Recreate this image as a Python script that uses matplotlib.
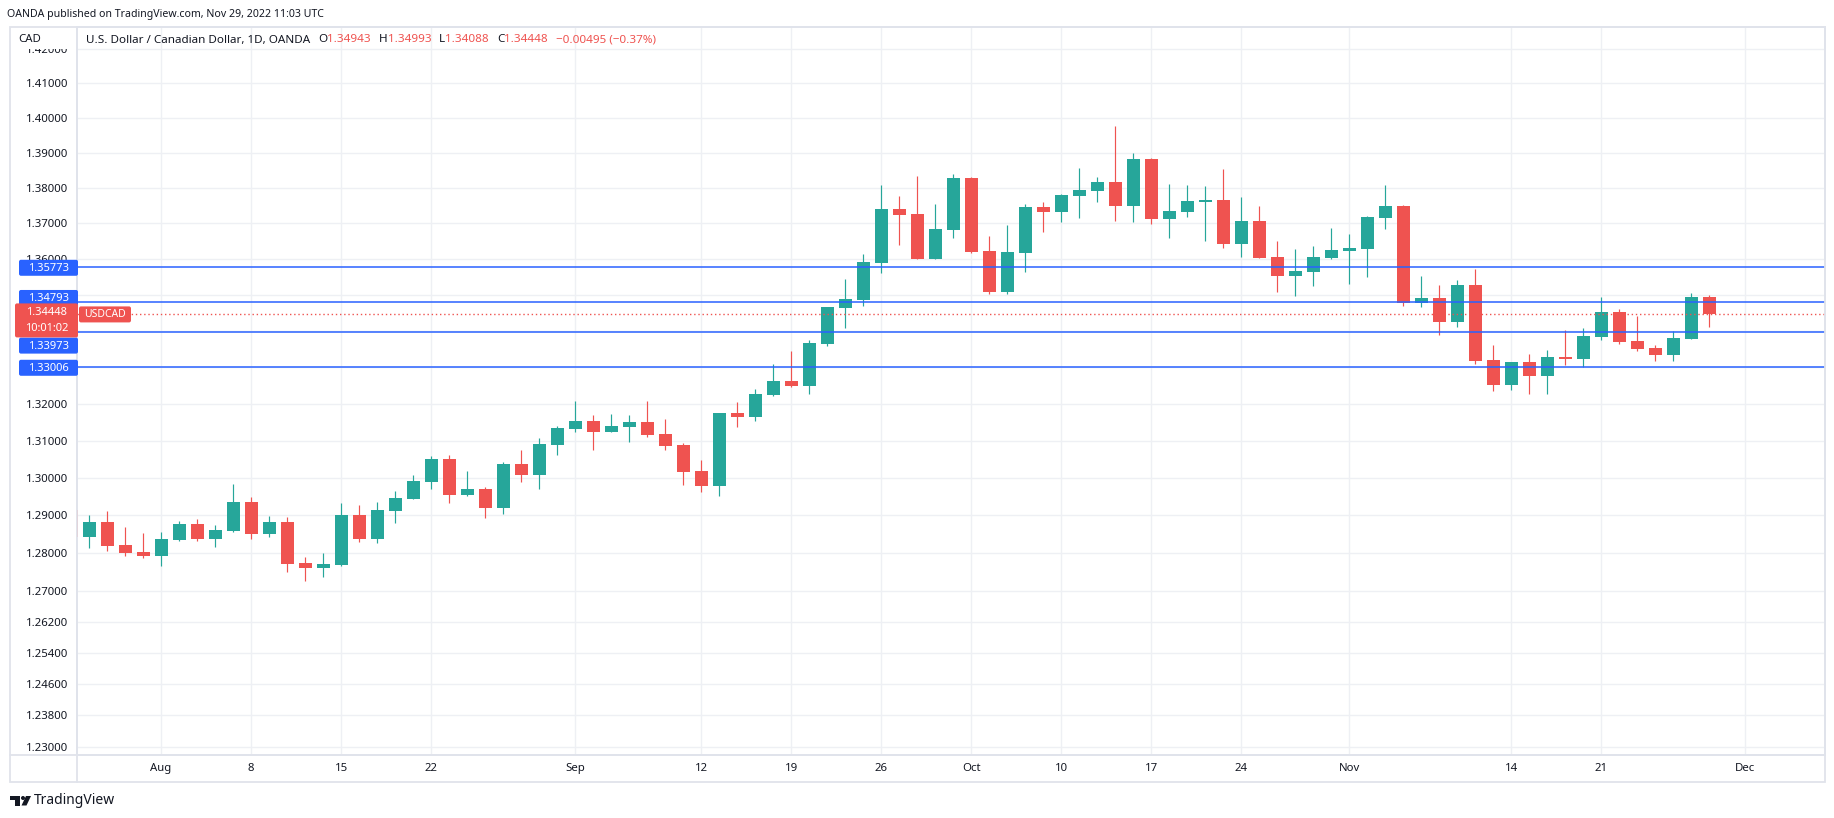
"""
USD/CAD daily candles (OANDA), late Jul -> Nov 29 2022,
tradingview-style snapshot with a few horizontal levels drawn on it.
y axis is log scale (that's why the label step changes at the bottom).
"""
import numpy as np
import pandas as pd
import matplotlib
matplotlib.use('Agg')
import matplotlib.pyplot as plt
from matplotlib.patches import Rectangle, FancyBboxPatch, Circle, Polygon
from matplotlib.lines import Line2D
from matplotlib.ticker import NullLocator
from matplotlib.transforms import IdentityTransform

plt.rcParams['font.family'] = ['Noto Sans', 'DejaVu Sans']

### data
# one bar per weekday
dates = pd.bdate_range('2022-07-25', '2022-11-29')
opens = [1.2914, 1.2843, 1.2882, 1.2821, 1.2803, 1.2793, 1.2835, 1.2877, 1.2837, 1.2858,
         1.2936, 1.2851, 1.2882, 1.2774, 1.2761, 1.2768, 1.2901, 1.2837, 1.2912, 1.2944,
         1.2989, 1.3050, 1.2954, 1.2970, 1.2920, 1.3037, 1.3008, 1.3088, 1.3131, 1.3153,
         1.3123, 1.3137, 1.3150, 1.3118, 1.3088, 1.3018, 1.2978, 1.3175, 1.3164, 1.3224,
         1.3262, 1.3248, 1.3363, 1.3463, 1.3485, 1.3588, 1.3740, 1.3726, 1.3599, 1.3681,
         1.3828, 1.3622, 1.3507, 1.3616, 1.3746, 1.3731, 1.3777, 1.3791, 1.3817, 1.3748,
         1.3882, 1.3712, 1.3731, 1.3760, 1.3765, 1.3641, 1.3706, 1.3605, 1.3552, 1.3563,
         1.3602, 1.3622, 1.3627, 1.3714, 1.3748, 1.3476, 1.3490, 1.3424, 1.3527, 1.3319,
         1.3251, 1.3314, 1.3275, 1.3328, 1.3322, 1.3382, 1.3452, 1.3371, 1.3352, 1.3333,
         1.3377, 1.34943]
highs = [1.2920, 1.2901, 1.2912, 1.2869, 1.2853, 1.2856, 1.2885, 1.2890, 1.2874, 1.2984,
         1.2949, 1.2898, 1.2896, 1.2790, 1.2800, 1.2933, 1.2928, 1.2936, 1.2965, 1.3008,
         1.3058, 1.3061, 1.3018, 1.2976, 1.3042, 1.3074, 1.3107, 1.3140, 1.3207, 1.3169,
         1.3172, 1.3169, 1.3207, 1.3158, 1.3094, 1.3047, 1.3176, 1.3205, 1.3240, 1.3309,
         1.3345, 1.3374, 1.3466, 1.3543, 1.3613, 1.3808, 1.3777, 1.3833, 1.3754, 1.3839,
         1.3830, 1.3664, 1.3695, 1.3754, 1.3760, 1.3782, 1.3856, 1.3831, 1.3977, 1.3899,
         1.3884, 1.3811, 1.3808, 1.3805, 1.3854, 1.3774, 1.3748, 1.3650, 1.3627, 1.3636,
         1.3686, 1.3669, 1.3720, 1.3808, 1.3751, 1.3552, 1.3527, 1.3541, 1.3571, 1.3360,
         1.3315, 1.3336, 1.3347, 1.3402, 1.3407, 1.3493, 1.3460, 1.3440, 1.3360, 1.3399,
         1.3504, 1.34993]
lows = [1.2840, 1.2814, 1.2806, 1.2793, 1.2788, 1.2767, 1.2832, 1.2832, 1.2816, 1.2857,
        1.2837, 1.2843, 1.2750, 1.2727, 1.2737, 1.2767, 1.2829, 1.2827, 1.2880, 1.2943,
        1.2970, 1.2933, 1.2951, 1.2893, 1.2903, 1.2989, 1.2970, 1.3061, 1.3123, 1.3074,
        1.3122, 1.3096, 1.3110, 1.3074, 1.2981, 1.2962, 1.2952, 1.3137, 1.3153, 1.3222,
        1.3245, 1.3226, 1.3358, 1.3407, 1.3468, 1.3560, 1.3639, 1.3598, 1.3598, 1.3658,
        1.3617, 1.3501, 1.3501, 1.3563, 1.3675, 1.3703, 1.3714, 1.3760, 1.3706, 1.3703,
        1.3698, 1.3658, 1.3717, 1.3650, 1.3630, 1.3605, 1.3601, 1.3507, 1.3496, 1.3524,
        1.3599, 1.3529, 1.3549, 1.3683, 1.3469, 1.3465, 1.3388, 1.3410, 1.3308, 1.3235,
        1.3237, 1.3226, 1.3226, 1.3306, 1.3300, 1.3374, 1.3363, 1.3344, 1.3317, 1.3317,
        1.3376, 1.34088]
closes = [1.2843, 1.2882, 1.2820, 1.2801, 1.2793, 1.2837, 1.2877, 1.2837, 1.2861, 1.2936,
          1.2851, 1.2882, 1.2771, 1.2761, 1.2771, 1.2901, 1.2837, 1.2914, 1.2946, 1.2992,
          1.3050, 1.2954, 1.2970, 1.2920, 1.3037, 1.3008, 1.3090, 1.3134, 1.3153, 1.3123,
          1.3139, 1.3150, 1.3115, 1.3085, 1.3016, 1.2978, 1.3175, 1.3164, 1.3226, 1.3262,
          1.3248, 1.3366, 1.3465, 1.3488, 1.3591, 1.3740, 1.3723, 1.3599, 1.3683, 1.3828,
          1.3619, 1.3507, 1.3619, 1.3746, 1.3731, 1.3780, 1.3794, 1.3817, 1.3748, 1.3882,
          1.3712, 1.3734, 1.3763, 1.3765, 1.3641, 1.3706, 1.3602, 1.3552, 1.3566, 1.3605,
          1.3624, 1.3630, 1.3717, 1.3748, 1.3477, 1.3490, 1.3424, 1.3527, 1.3317, 1.3251,
          1.3314, 1.3275, 1.3328, 1.3322, 1.3385, 1.3452, 1.3368, 1.3349, 1.3333, 1.3380,
          1.34943, 1.34448]

tick_dates = ['2022-08-01', '2022-08-08', '2022-08-15', '2022-08-22', '2022-09-01',
              '2022-09-12', '2022-09-19', '2022-09-26', '2022-10-03', '2022-10-10',
              '2022-10-17', '2022-10-24', '2022-11-01', '2022-11-14', '2022-11-21',
              '2022-12-01']
tick_labels = ['Aug', '8', '15', '22', 'Sep', '12', '19', '26', 'Oct', '10', '17',
               '24', 'Nov', '14', '21', 'Dec']
price_ticks = [1.23, 1.238, 1.246, 1.254, 1.262, 1.27, 1.28, 1.29, 1.30, 1.31, 1.32,
               1.33, 1.34, 1.35, 1.36, 1.37, 1.38, 1.39, 1.40, 1.41, 1.42]
levels = [1.35773, 1.34793, 1.33973, 1.33006]
symbol = 'USDCAD'
countdown = '10:01:02'
publisher = 'OANDA published on TradingView.com, Nov 29, 2022 11:03 UTC'
title = 'U.S. Dollar / Canadian Dollar, 1D, OANDA'

### style
GREEN = '#26a69a'
RED = '#ef5350'
BLUE = '#2962ff'
DARK = '#131722'
GRID = '#eef0f4'
FRAME = '#e0e3eb'

W, H = 1834, 818
PLOT_L, PLOT_R, PLOT_T, PLOT_B = 77, 1825, 27, 755
FRAME_L, FRAME_B = 10, 782
PX = IdentityTransform()


def ptext(x, y, s, **kw):
    """ text placed in pixels, y from the top """
    return fig.text(x, H - y, s, transform=PX, **kw)


def tag(x0, x1, yc, hgt, color):
    fig.add_artist(FancyBboxPatch(
        (x0, H - yc - hgt / 2), x1 - x0, hgt,
        boxstyle='round,pad=0,rounding_size=2',
        transform=PX, fc=color, ec='none', zorder=4))


fig = plt.figure(figsize=(W / 100, H / 100), dpi=100)
fig.patch.set_facecolor('white')
ax = fig.add_axes([PLOT_L / W, 1 - PLOT_B / H,
                   (PLOT_R - PLOT_L) / W, (PLOT_B - PLOT_T) / H])

axis_days = pd.bdate_range('2022-07-25', '2022-12-09')
tick_x = [axis_days.get_loc(pd.Timestamp(d)) for d in tick_dates]

ax.set_yscale('log')
ax.set_ylim(1.22789, 1.42644)
ax.set_xlim(0.33, 97.44)
ax.set_yticks(price_ticks)
ax.set_yticklabels([f'{p:.5f}' for p in price_ticks])
ax.yaxis.set_minor_locator(NullLocator())
ax.set_xticks(tick_x)
ax.set_xticklabels(tick_labels)
ax.tick_params(axis='both', length=0, labelsize=8.2, labelcolor=DARK)
ax.tick_params(axis='y', pad=6.5)
ax.tick_params(axis='x', pad=5.5)
ax.grid(True, color=GRID, lw=1)
ax.set_axisbelow(True)
for sp in ax.spines.values():
    sp.set_color(FRAME)
    sp.set_linewidth(1.3)

# candles
o, h, l, c = (np.array(v) for v in (opens, highs, lows, closes))
x = np.arange(len(dates))
col = np.where(c >= o, GREEN, RED)
ax.vlines(x, l, h, colors=col, lw=0.85, zorder=3)
lo = np.minimum(o, c)
hi = np.maximum(np.maximum(o, c), lo * 1.00025)  # dojis stay visible
ax.bar(x, hi - lo, bottom=lo, width=0.72, color=col, lw=0, zorder=4)

# levels + last price
for lv in levels:
    ax.axhline(lv, color=BLUE, lw=1.1, zorder=5)
last = closes[-1]
ax.axhline(last, color=RED, lw=1, ls=(0, (1, 2)), zorder=5)


def price_px(p):
    return H - ax.transData.transform((0, p))[1]


# outer frame / separators
fig.add_artist(Rectangle((FRAME_L, H - FRAME_B), PLOT_R - FRAME_L, FRAME_B - PLOT_T,
                         transform=PX, fill=False, ec=FRAME, lw=1.3, zorder=1))
fig.add_artist(Line2D([PLOT_L, PLOT_L], [H - PLOT_T, H - FRAME_B],
                      transform=PX, color=FRAME, lw=1.3, zorder=1))
fig.add_artist(Line2D([FRAME_L, PLOT_R], [H - PLOT_B, H - PLOT_B],
                      transform=PX, color=FRAME, lw=1.3, zorder=1))
# header row hides most of the top price label
fig.add_artist(Rectangle((FRAME_L + 1.5, H - 48.5), PLOT_L - FRAME_L - 3, 20,
                         transform=PX, fc='white', ec='none', zorder=2))

# axis tags; labels get nudged so they don't overlap
label_shift = [1, -4, 14, 1]
for lv, sh in zip(levels, label_shift):
    yc = price_px(lv) + sh
    tag(19, 78, yc, 16, BLUE)
    ptext(48.5, yc + 0.5, f'{lv:.5f}', color='white', fontsize=8, weight='bold',
          ha='center', va='center', zorder=5)
yc = price_px(last) + 6
tag(15, 78, yc, 34, RED)
ptext(46.5, yc - 7.5, f'{last:.5f}', color='white', fontsize=8, weight='bold',
      ha='center', va='center', zorder=5)
ptext(46.5, yc + 8.5, countdown, color='white', fontsize=8, weight='bold',
      ha='center', va='center', zorder=5)
tag(79, 131, price_px(last), 16, RED)
ptext(105, price_px(last) + 0.5, symbol, color='white', fontsize=7.5,
      ha='center', va='center', zorder=5)

# header texts
ptext(7, 15, publisher, color=DARK, fontsize=7.6, va='center')
ptext(18, 40, 'CAD', color=DARK, fontsize=8.2, va='center', zorder=3)

change = closes[-1] - closes[-2]
pct = change / closes[-2] * 100
pieces = [
    (title, DARK, 0),
    ('O', DARK, 8), (f'{opens[-1]:.5f}', RED, 0),
    ('H', DARK, 8), (f'{highs[-1]:.5f}', RED, 0),
    ('L', DARK, 8), (f'{lows[-1]:.5f}', RED, 0),
    ('C', DARK, 8), (f'{closes[-1]:.5f}', RED, 0),
    (f'{change:+.5f} ({pct:+.2f}%)'.replace('-', '\u2212'), RED, 8),
]
renderer = fig.canvas.get_renderer()
xpos = 86
for s, color, gap in pieces:
    xpos += gap
    t = ptext(xpos, 40, s, color=color, fontsize=8.4, va='center', zorder=3)
    xpos = t.get_window_extent(renderer).x1

# tradingview logo, roughly
for patch in [
        Rectangle((10, H - 800), 10, 4),
        Rectangle((14.5, H - 805.5), 5.5, 9.5),
        Circle((23, H - 798), 2),
        Polygon([(26, H - 796), (31, H - 796), (26.5, H - 805.5), (21.5, H - 805.5)]),
]:
    patch.set_transform(PX)
    patch.set_facecolor(DARK)
    patch.set_edgecolor('none')
    fig.add_artist(patch)
ptext(34, 801, 'TradingView', color=DARK, fontsize=10, va='center')

fig.savefig('out.png', dpi=100, facecolor='white')
